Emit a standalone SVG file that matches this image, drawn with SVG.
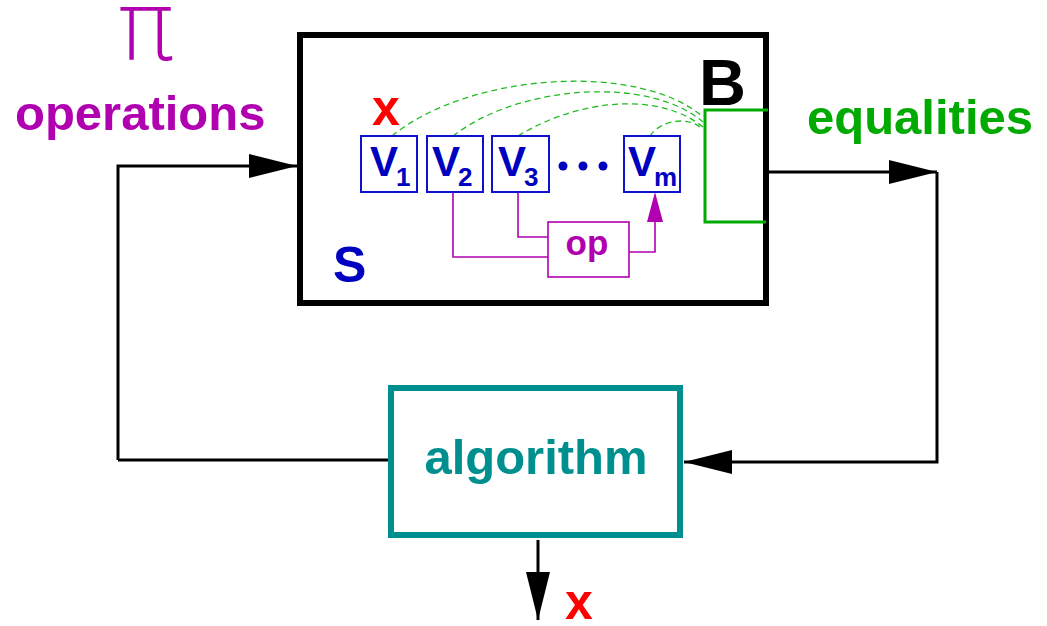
<svg xmlns="http://www.w3.org/2000/svg" width="1047" height="626" viewBox="0 0 1047 626">
<defs>
<style>
text{font-family:"Liberation Sans",Arial,sans-serif;font-weight:bold}
.vbox{fill:#fff;stroke:#1010d0;stroke-width:2}
.vt{fill:#0000c0;font-size:42px}
.sub{font-size:26px}
.wire{fill:none;stroke:#000;stroke-width:3}
.mag{fill:none;stroke:#b000b0;stroke-width:1.6}
.dash{fill:none;stroke:#22bb22;stroke-width:1.3;stroke-dasharray:6 4}
</style>
<marker id="ah" markerWidth="16" markerHeight="8" refX="16" refY="4" orient="auto" markerUnits="strokeWidth"><path d="M0,0 L16,4 L0,8 Z" fill="#000"/></marker>
</defs>

<g id="pi-label"><text x="146" y="60" text-anchor="middle" style="font-family:'DejaVu Sans',sans-serif;font-weight:200;font-size:96px;fill:#b000b0">π</text></g>
<g id="operations-label"><text x="15" y="130" style="font-size:49px;fill:#b000b0">operations</text></g>
<g id="equalities-label"><text x="807" y="134" style="font-size:49px;fill:#00aa00">equalities</text></g>

<g id="system-S">
<rect x="300" y="35" width="466" height="268" fill="#fff" stroke="#000" stroke-width="6"/>
<text x="333" y="282" style="font-size:50px;fill:#0000c0">S</text>
<text x="699" y="105" style="font-size:65px;fill:#000">B</text>
<text x="372" y="125" style="font-size:50px;fill:#ff0000">x</text>
</g>

<g id="connectors">
<path class="wire" d="M118,460 V166 H297" marker-end="url(#ah)"/>
<path class="wire" d="M769,172 H937" marker-end="url(#ah)"/>
<path class="wire" d="M937,172 V462 H684" marker-end="url(#ah)"/>
<path class="wire" d="M118,460 H391"/>
<path class="wire" d="M538,540 V620" marker-end="url(#ah)"/>
<path class="dash" d="M392,136 C470,72 640,62 703,117"/>
<path class="dash" d="M453,136 C520,84 650,76 703,122"/>
<path class="dash" d="M518,136 C580,98 660,92 703,127"/>
<path class="dash" d="M650,136 C660,120 690,115 703,130"/>
<path class="mag" d="M453,192 V257 H548"/>
<path class="mag" d="M518,192 V237 H548"/>
<path class="mag" d="M629,252 H655 V220"/>
<polygon points="655,192 647,222 663,222" fill="#b000b0"/>
</g>

<g id="bracket-B"><path d="M768,110 H705 V222 H766" fill="none" stroke="#00aa00" stroke-width="3"/></g>

<g id="V1"><rect class="vbox" x="361" y="136" width="56" height="56"/><text class="vt" x="370" y="176">V<tspan class="sub" dx="-2" dy="10">1</tspan></text></g>
<g id="V2"><rect class="vbox" x="427" y="136" width="56" height="56"/><text class="vt" x="432" y="176">V<tspan class="sub" dx="-2" dy="10">2</tspan></text></g>
<g id="V3"><rect class="vbox" x="492" y="136" width="57" height="56"/><text class="vt" x="498" y="176">V<tspan class="sub" dx="-2" dy="10">3</tspan></text></g>
<g id="dots" fill="#0000c0"><circle cx="563" cy="166" r="4.5"/><circle cx="583" cy="166" r="4.5"/><circle cx="603" cy="166" r="4.5"/></g>
<g id="Vm"><rect class="vbox" x="624" y="136" width="56" height="56"/><text class="vt" x="628" y="176">V<tspan class="sub" dx="-2" dy="10">m</tspan></text></g>

<g id="op"><rect x="548" y="222" width="81" height="55" fill="#fff" stroke="#b000b0" stroke-width="1.6"/><text x="587" y="255" text-anchor="middle" style="font-size:35px;fill:#b000b0">op</text></g>

<g id="algorithm"><rect x="391" y="388" width="289" height="147" fill="#fff" stroke="#008f8f" stroke-width="6"/><text x="536" y="474" text-anchor="middle" style="font-size:49px;fill:#008f8f">algorithm</text></g>

<g id="output-x"><text x="565" y="619" style="font-size:50px;fill:#ff0000">x</text></g>
</svg>
